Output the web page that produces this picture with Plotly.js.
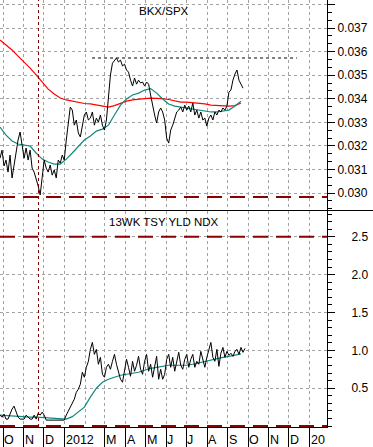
<!DOCTYPE html>
<html><head><meta charset="utf-8">
<script src="https://cdn.plot.ly/plotly-3.0.1.min.js"></script>
<style>html,body{margin:0;padding:0;background:#fff;} #chart{width:373px;height:447px;}</style>
</head><body><div id="chart"></div>
<script>
// ---- data ----
const seriesStart = '2011-09-26T12:00:00';
const dailyStepDays = 3;   // black lines: one value every 3 calendar days
const maStepDays = 9;      // moving averages: one value every 9 calendar days

const bkxSpxRatio = [
0.03148,0.03182,0.03115,0.03140,0.03089,0.03161,0.03064,0.03119,0.03182,0.03225,
0.03259,0.03204,0.03148,0.03191,0.03140,0.03182,0.03106,0.03089,0.03064,0.03030,
0.02992,0.03076,0.03140,0.03106,0.03089,0.03119,0.03076,0.03098,0.03064,0.03140,
0.03127,0.03161,0.03140,0.03225,0.03310,0.03365,0.03352,0.03288,0.03310,0.03255,
0.03238,0.03288,0.03331,0.03344,0.03310,0.03318,0.03344,0.03288,0.03318,0.03301,
0.03331,0.03288,0.03267,0.03310,0.03416,0.03501,0.03551,0.03564,0.03573,0.03556,
0.03564,0.03539,0.03547,0.03522,0.03513,0.03479,0.03454,0.03488,0.03462,0.03479,
0.03467,0.03471,0.03454,0.03471,0.03462,0.03416,0.03365,0.03331,0.03297,0.03344,
0.03361,0.03344,0.03310,0.03233,0.03212,0.03267,0.03288,0.03318,0.03344,0.03352,
0.03365,0.03344,0.03373,0.03352,0.03369,0.03344,0.03382,0.03331,0.03352,0.03318,
0.03344,0.03310,0.03318,0.03284,0.03318,0.03331,0.03310,0.03344,0.03331,0.03352,
0.03344,0.03361,0.03352,0.03369,0.03428,0.03437,0.03479,0.03505,0.03522,0.03479,
0.03458,0.03445];

const bkxSpxMA200 = [
0.03649,0.03628,0.03607,0.03581,0.03556,0.03530,0.03501,0.03471,0.03441,0.03420,
0.03403,0.03395,0.03390,0.03384,0.03380,0.03378,0.03373,0.03369,0.03365,0.03371,
0.03382,0.03390,0.03395,0.03399,0.03401,0.03403,0.03403,0.03401,0.03397,0.03390,
0.03386,0.03386,0.03384,0.03382,0.03378,0.03373,0.03371,0.03369,0.03369,0.03371,
0.03382];

const bkxSpxMA50 = [
0.03280,0.03246,0.03221,0.03208,0.03204,0.03199,0.03170,0.03144,0.03132,0.03123,
0.03123,0.03144,0.03170,0.03199,0.03225,0.03242,0.03263,0.03271,0.03288,0.03331,
0.03373,0.03399,0.03416,0.03424,0.03437,0.03443,0.03424,0.03399,0.03378,0.03369,
0.03365,0.03361,0.03356,0.03352,0.03346,0.03344,0.03344,0.03348,0.03352,0.03369,
0.03390];

const tsyYield = [
0.145,0.118,0.158,0.092,0.092,0.171,0.224,0.263,0.184,0.118,
0.092,0.092,0.092,0.145,0.118,0.092,0.092,0.145,0.092,0.171,
0.145,0.184,0.145,0.079,0.079,0.079,0.079,0.079,0.079,0.079,
0.079,0.079,0.079,0.145,0.197,0.250,0.316,0.355,0.447,0.487,
0.553,0.711,0.645,0.776,0.855,1.013,1.105,0.947,1.013,0.816,
0.908,0.684,0.645,0.776,0.816,0.750,0.855,0.947,0.816,0.724,
0.618,0.579,0.750,0.882,0.776,0.658,0.855,0.724,0.803,0.921,
0.750,0.684,0.855,0.947,0.724,0.816,0.645,0.776,0.921,0.618,
0.750,0.618,0.684,0.882,0.947,0.776,0.908,0.724,0.855,0.974,
0.803,0.750,0.882,0.947,0.776,0.882,0.947,0.776,0.855,0.816,
0.987,0.882,0.776,0.908,1.013,1.105,0.908,0.855,1.013,0.789,
0.961,1.039,0.908,0.987,0.934,0.961,0.921,0.987,1.013,0.947,
1.039,0.974,1.026];

const tsyYieldMA = [
0.145,0.138,0.132,0.132,0.125,0.118,0.118,0.112,0.105,0.099,
0.092,0.092,0.125,0.184,0.250,0.382,0.500,0.579,0.618,0.645,
0.671,0.684,0.697,0.711,0.737,0.763,0.776,0.789,0.803,0.803,
0.803,0.803,0.816,0.836,0.855,0.875,0.888,0.908,0.921,0.941,
0.954];

const monthStarts = ['2011-10-01','2011-11-01','2011-12-01','2012-01-01','2012-02-01','2012-03-01',
  '2012-04-01','2012-05-01','2012-06-01','2012-07-01','2012-08-01','2012-09-01','2012-10-01',
  '2012-11-01','2012-12-01','2013-01-01'];
const labelStarts = ['2011-10-01','2011-11-01','2011-12-01','2012-01-01','2012-03-01',
  '2012-04-01','2012-05-01','2012-06-01','2012-07-01','2012-08-01','2012-09-01','2012-10-01',
  '2012-11-01','2012-12-01','2013-01-01'];
const monthLabels = ['O','N','D','2012','M','A','M','J','J','A','S','O','N','D','20'];

const ratioTickVals = [0.030,0.031,0.032,0.033,0.034,0.035,0.036,0.037,0.038];
const ratioTickText = ['0.030','0.031','0.032','0.033','0.034','0.035','0.036','0.037',''];
const yieldTickVals = [0.5,1.0,1.5,2.0,2.5];
const yieldTickText = ['0.5','1.0','1.5','2.0','2.5'];

const ratioSupport = 0.02983;
const ratioResistance = 0.03573;
const resistanceFrom = '2012-02-11';
const resistanceTo = '2012-12-13';
const yieldUpperLine = 2.5;
const yieldLowerLine = 0.0;
const markerDate = '2011-11-23';

// ---- build ----
function datesFor(n, stepDays){
  const t0 = Date.parse(seriesStart + 'Z');
  const out = [];
  for (let i = 0; i < n; i++) {
    out.push(new Date(t0 + i*stepDays*86400000).toISOString().slice(0,19).replace('T',' '));
  }
  return out;
}

const RED_DARK = '#8b0000';
const GRID = '#a2a2a2';
const traces = [
  {x: datesFor(bkxSpxMA200.length, maStepDays), y: bkxSpxMA200, xaxis:'x', yaxis:'y', type:'scatter', mode:'lines', line:{color:'#ff0000', width:1.2}, hoverinfo:'skip'},
  {x: datesFor(bkxSpxMA50.length, maStepDays), y: bkxSpxMA50, xaxis:'x', yaxis:'y', type:'scatter', mode:'lines', line:{color:'#12887b', width:1.2}, hoverinfo:'skip'},
  {x: datesFor(bkxSpxRatio.length, dailyStepDays), y: bkxSpxRatio, xaxis:'x', yaxis:'y', type:'scatter', mode:'lines', line:{color:'#000', width:1}, hoverinfo:'skip'},
  {x: datesFor(tsyYieldMA.length, maStepDays), y: tsyYieldMA, xaxis:'x', yaxis:'y2', type:'scatter', mode:'lines', line:{color:'#12887b', width:1.2}, hoverinfo:'skip'},
  {x: datesFor(tsyYield.length, dailyStepDays), y: tsyYield, xaxis:'x', yaxis:'y2', type:'scatter', mode:'lines', line:{color:'#000', width:1}, hoverinfo:'skip'}
];

const split = 0.5059;
const dividerY = (427 - 210.5) / 427;
const shapes = [
  {type:'line', xref:'paper', x0:0, x1:1, yref:'y', y0:ratioSupport, y1:ratioSupport, line:{color:RED_DARK, width:2, dash:'15px,8px'}},
  {type:'line', xref:'paper', x0:0, x1:1, yref:'y2', y0:yieldUpperLine, y1:yieldUpperLine, line:{color:RED_DARK, width:2, dash:'15px,8px'}},
  {type:'line', xref:'paper', x0:0, x1:1, yref:'y2', y0:yieldLowerLine, y1:yieldLowerLine, line:{color:RED_DARK, width:2, dash:'15px,8px'}},
  {type:'line', xref:'x', x0:resistanceFrom, x1:resistanceTo, yref:'y', y0:ratioResistance, y1:ratioResistance, line:{color:'#000', width:1, dash:'3px,3px'}},
  {type:'line', xref:'x', x0:markerDate, x1:markerDate, yref:'paper', y0:0, y1:1, line:{color:'#7a0000', width:1, dash:'3px,3px'}},
  {type:'line', xref:'paper', x0:0, x1:373/327, yref:'paper', y0:dividerY, y1:dividerY, line:{color:'#000', width:1}}
];

const annotations = [
  {text:'BKX/SPX', xref:'paper', yref:'paper', x:0.5, y:0.974, showarrow:false, xanchor:'center', yanchor:'middle', font:{size:11.5, color:'#000'}},
  {text:'13WK TSY YLD NDX', xref:'paper', yref:'paper', x:0.5, y:0.480, showarrow:false, xanchor:'center', yanchor:'middle', font:{size:11.5, color:'#000'}}
];
labelStarts.forEach((d,i)=>{
  annotations.push({text:monthLabels[i], xref:'x', yref:'paper', x:d, y:-0.030, showarrow:false, xanchor:'left', yanchor:'middle', xshift:-1, font:{size:12.5, color:'#000'}});
});

const gridCommon = {showgrid:true, gridcolor:GRID, griddash:'3px,3px', gridwidth:1};
const layout = {
  width:373, height:447,
  margin:{l:0, r:46, t:0, b:20, pad:0},
  paper_bgcolor:'#fff', plot_bgcolor:'#fff',
  showlegend:false,
  font:{family:'Liberation Sans, Arial, sans-serif', size:12, color:'#000'},
  xaxis:Object.assign({type:'date', range:['2011-09-26 12:00','2013-01-27'], anchor:'y2',
    tickmode:'array', tickvals:labelStarts, showticklabels:false,
    ticks:'outside', ticklen:20, tickcolor:'#000', tickwidth:1,
    minor:{tickmode:'array', tickvals:monthStarts, showgrid:true, gridcolor:GRID, griddash:'3px,3px', gridwidth:1, ticks:''},
    showline:true, linecolor:'#000', linewidth:1, zeroline:false, fixedrange:true}, gridCommon),
  yaxis:Object.assign({domain:[split,1], side:'right', anchor:'x', range:[0.02924,0.03819],
    tickmode:'array', tickvals:ratioTickVals, ticktext:ratioTickText,
    ticks:'outside', ticklen:7, tickcolor:'#000', ticklabelstandoff:0,
    minor:{tickmode:'linear', tick0:0.030, dtick:0.001/3, ticks:'outside', ticklen:4, tickcolor:'#000', showgrid:false},
    showline:true, linecolor:'#000', linewidth:1, zeroline:false, tickfont:{size:12}}, gridCommon),
  yaxis2:Object.assign({domain:[0,split], side:'right', anchor:'x', range:[-0.012,2.84],
    tickmode:'array', tickvals:yieldTickVals, ticktext:yieldTickText,
    ticks:'outside', ticklen:7, tickcolor:'#000', ticklabelstandoff:14,
    minor:{tickmode:'linear', tick0:0, dtick:0.1, ticks:'outside', ticklen:4, tickcolor:'#000', showgrid:false},
    showline:true, linecolor:'#000', linewidth:1, zeroline:false, tickfont:{size:12}}, gridCommon),
  shapes:shapes,
  annotations:annotations
};

Plotly.newPlot('chart', traces, layout, {staticPlot:true, displayModeBar:false});
</script>
</body></html>
